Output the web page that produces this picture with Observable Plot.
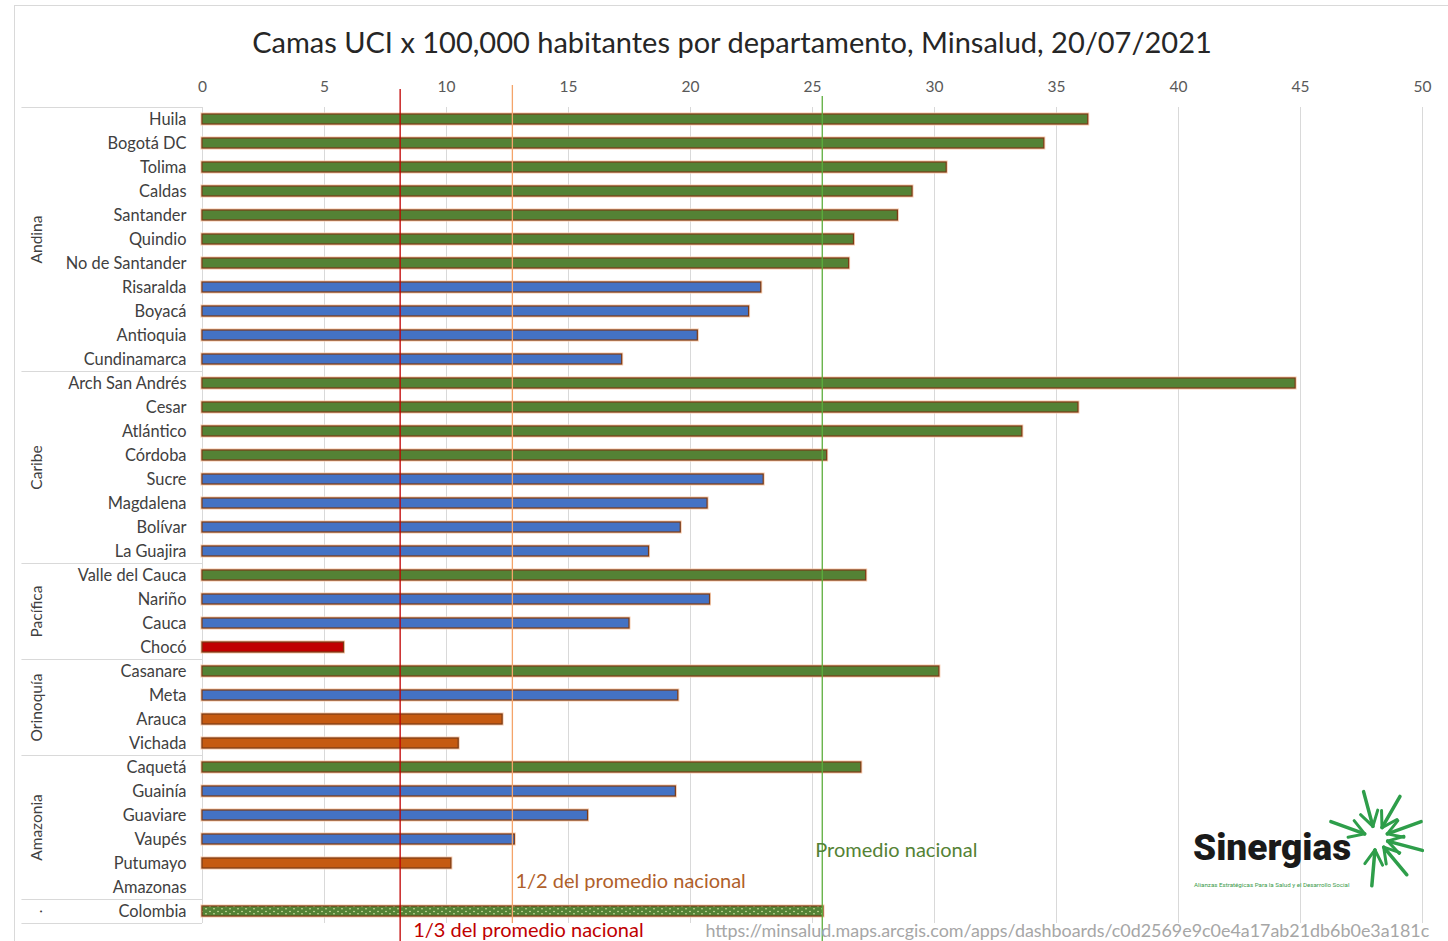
<!DOCTYPE html>
<html><head><meta charset="utf-8">
<script src="https://cdn.jsdelivr.net/npm/d3@7"></script>
<script src="https://cdn.jsdelivr.net/npm/@observablehq/plot@0.6"></script>
<style>
html,body{margin:0;padding:0;background:#fff;}
#wrap{position:relative;width:1448px;height:941px;overflow:hidden;font-family:Lato,"Open Sans",sans-serif;}
#marco{position:absolute;left:14px;top:5px;width:1440px;height:940px;border:1px solid #d9d9d9;box-sizing:border-box}
#titulo{position:absolute;left:0;top:23px;width:1448px;padding-left:16px;box-sizing:border-box;text-align:center;font-size:29px;color:#262626;line-height:38px;white-space:nowrap}
#grafico{position:absolute;left:0;top:70px}
#logo{position:absolute;left:1180px;top:780px}
</style></head>
<body><div id="wrap"><div id="marco"></div>
<div id="titulo">Camas UCI x 100,000 habitantes por departamento, Minsalud, 20/07/2021</div>
<div id="grafico"></div>
<svg id="logo" width="268" height="120"></svg>
</div>
<script>
const departamentos = ["Huila","Bogotá DC","Tolima","Caldas","Santander","Quindio","No de Santander","Risaralda","Boyacá","Antioquia","Cundinamarca",
  "Arch San Andrés","Cesar","Atlántico","Córdoba","Sucre","Magdalena","Bolívar","La Guajira",
  "Valle del Cauca","Nariño","Cauca","Chocó",
  "Casanare","Meta","Arauca","Vichada",
  "Caquetá","Guainía","Guaviare","Vaupés","Putumayo","Amazonas",
  "Colombia"];
const regiones = ["Andina","Andina","Andina","Andina","Andina","Andina","Andina","Andina","Andina","Andina","Andina",
  "Caribe","Caribe","Caribe","Caribe","Caribe","Caribe","Caribe","Caribe",
  "Pacífica","Pacífica","Pacífica","Pacífica",
  "Orinoquía","Orinoquía","Orinoquía","Orinoquía",
  "Amazonia","Amazonia","Amazonia","Amazonia","Amazonia","Amazonia",
  "."];
const camas = [36.3,34.5,30.5,29.1,28.5,26.7,26.5,22.9,22.4,20.3,17.2,
  44.8,35.9,33.6,25.6,23.0,20.7,19.6,18.3,
  27.2,20.8,17.5,5.8,
  30.2,19.5,12.3,10.5,
  27.0,19.4,15.8,12.8,10.2,null,
  25.45];
const promedioNacional = 25.4;
const mitadPromedio = 12.7;
const terceraPromedio = 8.1;
const etiquetaPromedio = "Promedio nacional";
const etiquetaMitad = "1/2 del promedio nacional";
const etiquetaTercera = "1/3 del promedio nacional";
const fuente = "https://minsalud.maps.arcgis.com/apps/dashboards/c0d2569e9c0e4a17ab21db6b0e3a181c";

const datos = departamentos.map((d, i) => ({departamento: d, region: regiones[i], camas: camas[i]}));
const grupos = [];
datos.forEach(d => {
  const g = grupos.find(g => g.region === d.region);
  if (g) g.n++; else grupos.push({region: d.region, primero: d.departamento, n: 1});
});
function colorBarra(v) {
  if (v >= promedioNacional) return "#548235";
  if (v >= mitadPromedio) return "#4472c4";
  if (v >= promedioNacional / 3) return "#c55a11";
  return "#c00000";
}
const barras = datos.filter(d => d.camas != null && d.departamento !== "Colombia");
const total = datos.filter(d => d.departamento === "Colombia");

const chart = Plot.plot({
  width: 1448, height: 871,
  marginLeft: 202, marginRight: 26, marginTop: 37, marginBottom: 18,
  style: {fontFamily: "Lato, 'Open Sans', sans-serif", background: "transparent", overflow: "visible"},
  x: {domain: [0, 50]},
  y: {domain: departamentos, padding: 0},
  marks: [
    Plot.gridX({stroke: "#d9d9d9", strokeOpacity: 1}),
    Plot.axisX({anchor: "top", tickSize: 0, tickPadding: 16, fontSize: 15.5, color: "#595959", label: null}),
    Plot.axisY({tickSize: 0, tickPadding: 16, fontSize: 16.4, color: "#404040", label: null}),
    Plot.ruleY(grupos, {y: "primero", x1: -7.4, x2: 0, dy: -12, stroke: "#d9d9d9"}),
    Plot.ruleY(total, {y: "departamento", x1: -7.4, x2: 0, dy: 12, stroke: "#d9d9d9"}),
    ...grupos.map(g => Plot.text([g], {y: "primero", x: -6.8, text: "region", rotate: -90, dy: (g.n - 1) * 12, fontSize: 15.5, fill: "#404040"})),
    Plot.barX(barras, {x: "camas", y: "departamento", fill: d => colorBarra(d.camas), stroke: "#f8cbad", strokeWidth: 3, insetTop: 7, insetBottom: 7}),
    Plot.barX(barras, {x: "camas", y: "departamento", fill: d => colorBarra(d.camas), stroke: "#7b3b16", strokeWidth: 1.2, insetTop: 7, insetBottom: 7}),
    Plot.barX(total, {x: "camas", y: "departamento", fill: "url(#puntos)", stroke: "#f8cbad", strokeWidth: 3, insetTop: 7, insetBottom: 7}),
    Plot.barX(total, {x: "camas", y: "departamento", fill: "url(#puntos)", stroke: "#7b3b16", strokeWidth: 1.2, insetTop: 7, insetBottom: 7}),
    Plot.ruleX([terceraPromedio], {stroke: "#c00000", strokeWidth: 1.3, insetTop: -18, insetBottom: -18}),
    Plot.ruleX([mitadPromedio], {stroke: "#f4a46a", strokeWidth: 1.3, insetTop: -22, insetBottom: 0}),
    Plot.ruleX([promedioNacional], {stroke: "#5cae3c", strokeWidth: 1.3, insetTop: -11, insetBottom: -18}),
    Plot.text([promedioNacional], {x: d => d, text: () => etiquetaPromedio, frameAnchor: "bottom", dx: -7, dy: -67, textAnchor: "start", fill: "#548235", fontSize: 20}),
    Plot.text([mitadPromedio], {x: d => d, text: () => etiquetaMitad, frameAnchor: "bottom", dx: 3, dy: -36, textAnchor: "start", fill: "#b0602a", fontSize: 20}),
    Plot.text([terceraPromedio], {x: d => d, text: () => etiquetaTercera, frameAnchor: "bottom", dx: 13, dy: 13, textAnchor: "start", fill: "#c00000", fontSize: 20}),
    Plot.text([fuente], {text: d => d, frameAnchor: "bottom-left", dx: 503, dy: 13, textAnchor: "start", fill: "#a6a6a6", fontSize: 17.9})
  ]
});
chart.insertAdjacentHTML("afterbegin",
  '<defs><pattern id="puntos" width="8" height="5" patternUnits="userSpaceOnUse">' +
  '<rect width="8" height="5" fill="#548235"/><circle cx="2" cy="1.5" r="0.8" fill="#d8e8a8"/><circle cx="6" cy="3.8" r="0.8" fill="#d8e8a8"/></pattern></defs>');
document.getElementById("grafico").appendChild(chart);

// logo (decorativo)
const logo = d3.select("#logo");
logo.append("text").attr("x", 13).attr("y", 80).attr("font-family", "Roboto, sans-serif").attr("font-weight", 900)
  .attr("font-size", 37).attr("fill", "#1a1a1a").text("Sinergias");
logo.append("text").attr("x", 14).attr("y", 107).attr("font-family", "Roboto, sans-serif")
  .attr("font-size", 6.2).attr("fill", "#3a9a4a").text("Alianzas Estratégicas Para la Salud y el Desarrollo Social");
const cx = 196, cy = 58;
[-160, -105, -60, -20, 15, 50, 95].forEach(a => {
  const r = a * Math.PI / 180;
  const x1 = cx + 12 * Math.cos(r), y1 = cy + 12 * Math.sin(r);
  const x2 = cx + 48 * Math.cos(r), y2 = cy + 48 * Math.sin(r);
  logo.append("line").attr("x1", x1).attr("y1", y1).attr("x2", x2).attr("y2", y2)
    .attr("stroke", "#2e9e4a").attr("stroke-width", 3.5).attr("stroke-linecap", "round");
  [-0.55, 0.55].forEach(s => {
    const rb = r + s;
    logo.append("line").attr("x1", x1).attr("y1", y1)
      .attr("x2", x1 + 17 * Math.cos(rb)).attr("y2", y1 + 17 * Math.sin(rb))
      .attr("stroke", "#2e9e4a").attr("stroke-width", 3).attr("stroke-linecap", "round");
  });
});
</script>
</body></html>
